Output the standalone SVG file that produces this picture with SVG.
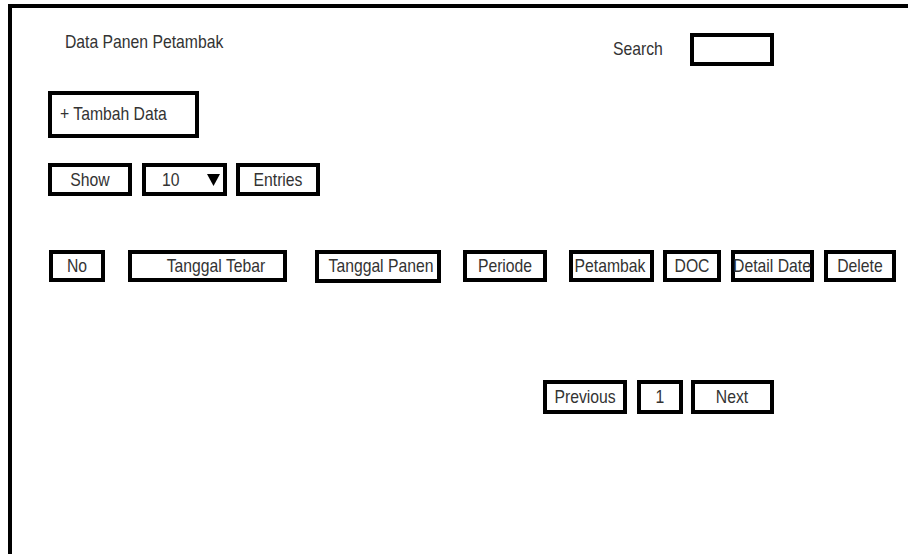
<svg xmlns="http://www.w3.org/2000/svg" width="908" height="554" viewBox="0 0 908 554">
  <style>
    .box { fill: #ffffff; stroke: #000000; stroke-width: 4; }
    .lbl { font-family: "Liberation Sans", Arial, sans-serif; font-size: 17.5px; fill: #333333; }
    .mid { text-anchor: middle; }
  </style>
  <rect x="0" y="0" width="908" height="554" fill="#ffffff"/>
  <!-- page frame: top and left edges -->
  <path d="M10,554 V6 H908" fill="none" stroke="#000000" stroke-width="4"/>

  <!-- labels use a slightly condensed face: scale(0.9,1) around their anchor -->
  <g id="title"><text class="lbl" transform="translate(65,48) scale(0.9,1)">Data Panen Petambak</text></g>

  <g id="search">
    <text class="lbl" transform="translate(613,55) scale(0.9,1)">Search</text>
    <rect class="box" x="692" y="35" width="80" height="29"/>
  </g>

  <g id="add-button">
    <rect class="box" x="50" y="93" width="147" height="43"/>
    <text class="lbl" transform="translate(60,120) scale(0.9,1)">+ Tambah Data</text>
  </g>

  <g id="show">
    <rect class="box" x="50" y="165" width="80" height="29"/>
    <text class="lbl mid" transform="translate(90,186) scale(0.9,1)">Show</text>
  </g>
  <g id="page-size">
    <rect class="box" x="144" y="165" width="81" height="29"/>
    <text class="lbl" transform="translate(162,186) scale(0.9,1)">10</text>
    <polygon points="207,174 220,174 213.5,186" fill="#000000"/>
  </g>
  <g id="entries">
    <rect class="box" x="238" y="165" width="80" height="29"/>
    <text class="lbl mid" transform="translate(278,186) scale(0.9,1)">Entries</text>
  </g>

  <g id="col-no">
    <rect class="box" x="51" y="252" width="52" height="28"/>
    <text class="lbl mid" transform="translate(77,272) scale(0.9,1)">No</text>
  </g>
  <g id="col-tanggal-tebar">
    <rect class="box" x="130" y="252" width="155" height="28"/>
    <text class="lbl mid" transform="translate(216,272) scale(0.9,1)">Tanggal Tebar</text>
  </g>
  <g id="col-tanggal-panen">
    <rect class="box" x="317" y="252" width="122" height="29"/>
    <text class="lbl mid" transform="translate(381,272) scale(0.9,1)">Tanggal Panen</text>
  </g>
  <g id="col-periode">
    <rect class="box" x="465" y="252" width="80" height="28"/>
    <text class="lbl mid" transform="translate(505,272) scale(0.9,1)">Periode</text>
  </g>
  <g id="col-petambak">
    <rect class="box" x="571" y="252" width="81" height="28"/>
    <text class="lbl mid" transform="translate(610,272) scale(0.9,1)">Petambak</text>
  </g>
  <g id="col-doc">
    <rect class="box" x="665" y="252" width="54" height="28"/>
    <text class="lbl mid" transform="translate(692,272) scale(0.9,1)">DOC</text>
  </g>
  <g id="col-detail-date">
    <rect class="box" x="733" y="252" width="79" height="28"/>
    <text class="lbl mid" transform="translate(772,272) scale(0.9,1)">Detail Date</text>
  </g>
  <g id="col-delete">
    <rect class="box" x="826" y="252" width="68" height="28"/>
    <text class="lbl mid" transform="translate(860,272) scale(0.9,1)">Delete</text>
  </g>

  <g id="btn-previous">
    <rect class="box" x="545" y="382" width="80" height="30"/>
    <text class="lbl mid" transform="translate(585,403) scale(0.9,1)">Previous</text>
  </g>
  <g id="btn-page-1">
    <rect class="box" x="639" y="382" width="42" height="30"/>
    <text class="lbl mid" transform="translate(660,403) scale(0.9,1)">1</text>
  </g>
  <g id="btn-next">
    <rect class="box" x="693" y="382" width="79" height="30"/>
    <text class="lbl mid" transform="translate(732,403) scale(0.9,1)">Next</text>
  </g>

  <g id="connectors"/>
</svg>
